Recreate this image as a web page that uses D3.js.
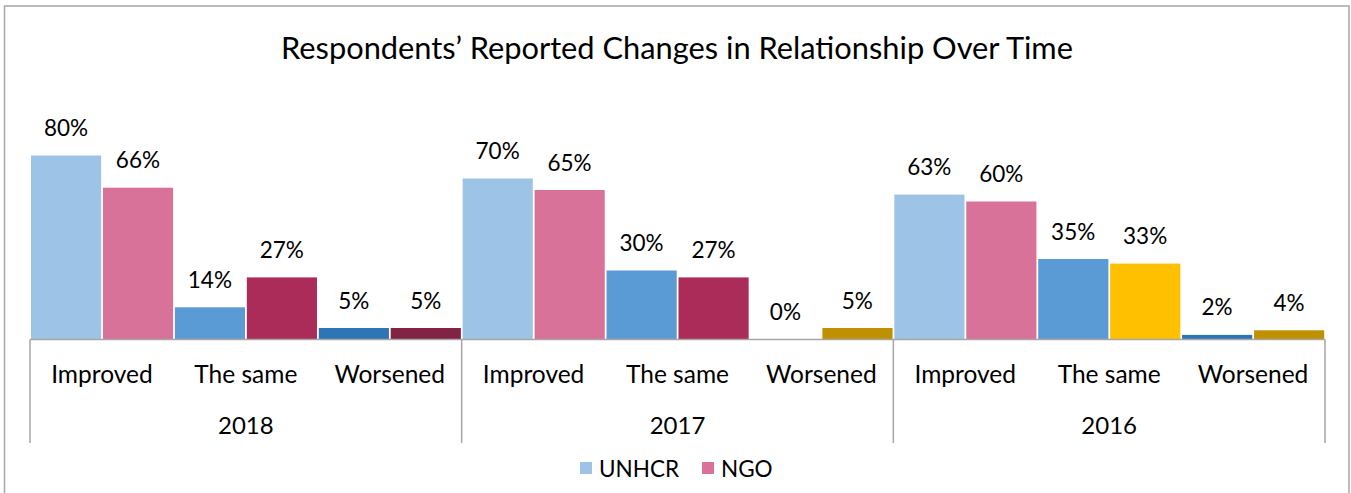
<!DOCTYPE html>
<html>
<head>
<meta charset="utf-8">
<script src="https://cdn.jsdelivr.net/npm/d3@7"></script>
<style>
html,body{margin:0;padding:0;background:#fff;}
svg{display:block;}
text{font-family:Lato,"Open Sans",sans-serif;fill:#000;}
</style>
</head>
<body>
<svg id="chart" width="1351" height="493"></svg>
<script>
// ---- data ----
const title = "Respondents’ Reported Changes in Relationship Over Time";
const years = ["2018", "2017", "2016"];
const categories = ["Improved", "The same", "Worsened"];
const seriesNames = ["UNHCR", "NGO"];
const unhcr2018 = [0.80, 0.14, 0.05];
const ngo2018   = [0.66, 0.27, 0.05];
const unhcr2017 = [0.70, 0.30, 0.00];
const ngo2017   = [0.65, 0.27, 0.05];
const unhcr2016 = [0.63, 0.35, 0.02];
const ngo2016   = [0.60, 0.33, 0.04];
// colours (per point, as in the original)
const unhcrColors = ["#9DC3E6", "#5B9BD5", "#2E75B6"];
const ngoColors2018 = ["#D97298", "#AB2B59", "#822245"];
const ngoColors2017 = ["#D97298", "#AB2B59", "#BF9000"];
const ngoColors2016 = ["#D97298", "#FFC000", "#BF9000"];

const valuesByYear = {
  "2018": [unhcr2018, ngo2018],
  "2017": [unhcr2017, ngo2017],
  "2016": [unhcr2016, ngo2016]
};
const ngoColorsByYear = {"2018": ngoColors2018, "2017": ngoColors2017, "2016": ngoColors2016};

// ---- layout ----
const svg = d3.select("#chart");
const plotLeft = 30, plotRight = 1325, baseY = 339.5;

// frame
svg.append("rect").attr("x", 4.5).attr("y", 6).attr("width", 1344.5).attr("height", 520)
  .attr("fill", "#fff").attr("stroke", "#A6A6A6").attr("stroke-width", 1.5);

svg.append("text").attr("x", 677).attr("y", 59).attr("text-anchor", "middle")
  .style("font-size", "30.8px").text(title);

const xYear = d3.scaleBand().domain(years).range([plotLeft, plotRight]).padding(0);
const xCat = d3.scaleBand().domain(categories).range([0, xYear.bandwidth()]).padding(0);
const xSeries = d3.scaleBand().domain(seriesNames).range([0, xCat.bandwidth()]).padding(0);
const y = d3.scaleLinear().domain([0, 1]).range([baseY, baseY - 230]);

const rows = [];
years.forEach(yr => {
  categories.forEach((c, ci) => {
    seriesNames.forEach((s, si) => {
      rows.push({
        year: yr, cat: c, series: s,
        value: valuesByYear[yr][si][ci],
        color: si === 0 ? unhcrColors[ci] : ngoColorsByYear[yr][ci]
      });
    });
  });
});

const bx = d => xYear(d.year) + xCat(d.cat) + xSeries(d.series);

svg.append("g").selectAll("rect").data(rows).join("rect")
  .attr("x", d => bx(d) + 1)
  .attr("width", xSeries.bandwidth() - 1.8)
  .attr("y", d => y(d.value))
  .attr("height", d => baseY - y(d.value))
  .attr("fill", d => d.color);

svg.append("g").selectAll("text").data(rows).join("text")
  .attr("x", d => bx(d) + xSeries.bandwidth() / 2)
  .attr("y", d => y(d.value) - 19.5)
  .attr("text-anchor", "middle")
  .style("font-size", "22.5px")
  .text(d => d3.format(".0%")(d.value));

// axis line and group separators
const axisColor = "#A6A6A6";
svg.append("line").attr("x1", plotLeft).attr("x2", plotRight).attr("y1", baseY).attr("y2", baseY)
  .attr("stroke", axisColor).attr("stroke-width", 1.5);
const seps = years.map(yr => xYear(yr)).concat([plotRight]);
svg.append("g").selectAll("line").data(seps).join("line")
  .attr("x1", d => d).attr("x2", d => d).attr("y1", baseY).attr("y2", 443)
  .attr("stroke", axisColor).attr("stroke-width", 1.5);

// category labels
const catRows = [];
years.forEach(yr => categories.forEach(c => catRows.push({year: yr, cat: c})));
svg.append("g").selectAll("text").data(catRows).join("text")
  .attr("x", d => xYear(d.year) + xCat(d.cat) + xCat.bandwidth() / 2)
  .attr("y", 382.5)
  .attr("text-anchor", "middle")
  .style("font-size", "24.5px")
  .text(d => d.cat);

svg.append("g").selectAll("text").data(years).join("text")
  .attr("x", d => xYear(d) + xYear.bandwidth() / 2)
  .attr("y", 434)
  .attr("text-anchor", "middle")
  .style("font-size", "24px")
  .text(d => d);

// legend
const legendColors = [unhcrColors[0], ngoColors2018[0]];
const lg = svg.append("g");
const legendX = [580, 702];
seriesNames.forEach((s, i) => {
  lg.append("rect").attr("x", legendX[i]).attr("y", 462).attr("width", 12).attr("height", 12)
    .attr("fill", legendColors[i]);
  lg.append("text").attr("x", legendX[i] + 19).attr("y", 476.5)
    .style("font-size", "22.5px").text(s);
});
</script>
</body>
</html>
